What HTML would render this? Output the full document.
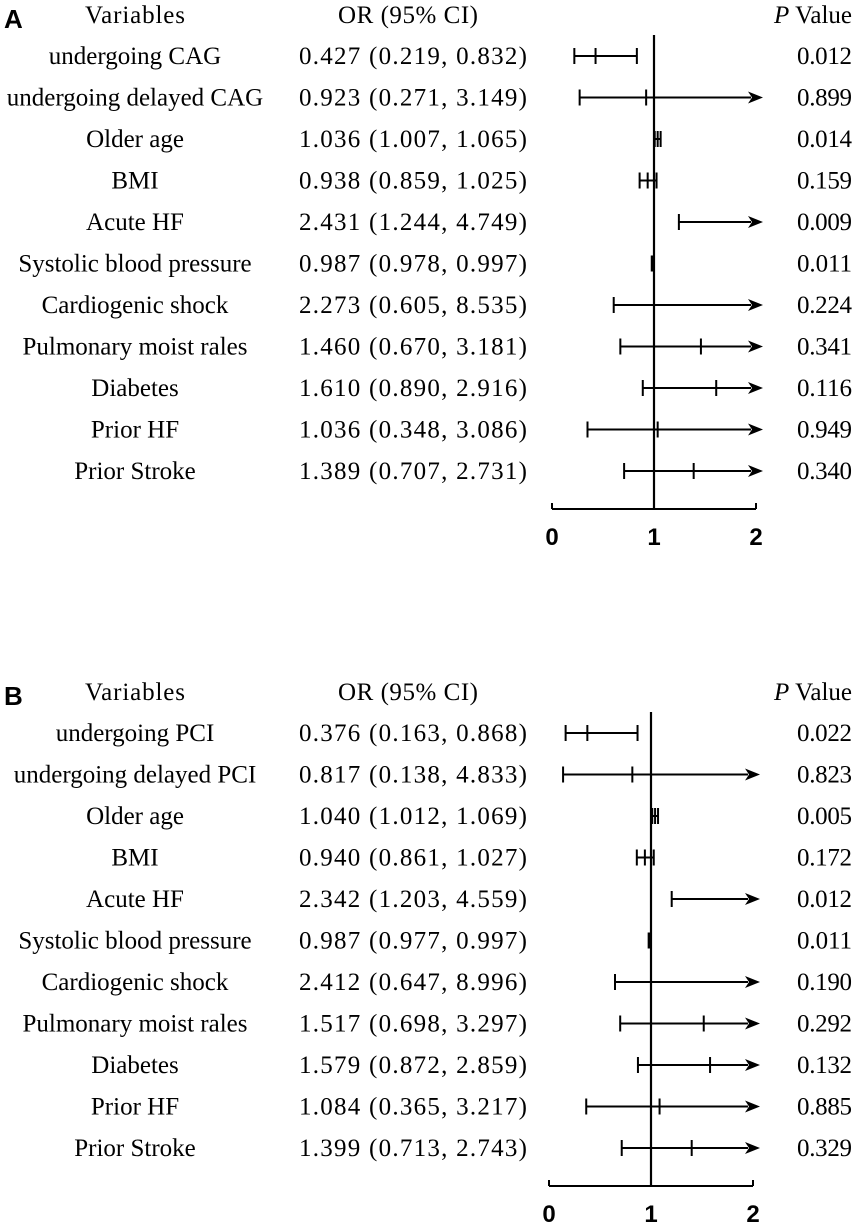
<!DOCTYPE html>
<html><head><meta charset="utf-8"><style>
body{margin:0;background:#fff;}
svg text{font-family:"Liberation Serif",serif;font-size:25px;fill:#000;}
svg .lab{font-family:"Liberation Sans",sans-serif;font-weight:bold;font-size:24px;}
</style></head><body>
<svg id="chart" width="855" height="1222" xmlns="http://www.w3.org/2000/svg"></svg>
<script>
const variablesA=["undergoing CAG","undergoing delayed CAG","Older age","BMI","Acute HF","Systolic blood pressure","Cardiogenic shock","Pulmonary moist rales","Diabetes","Prior HF","Prior Stroke"];
const orA=[0.427,0.923,1.036,0.938,2.431,0.987,2.273,1.460,1.610,1.036,1.389];
const lowA=[0.219,0.271,1.007,0.859,1.244,0.978,0.605,0.670,0.890,0.348,0.707];
const highA=[0.832,3.149,1.065,1.025,4.749,0.997,8.535,3.181,2.916,3.086,2.731];
const pA=["0.012","0.899","0.014","0.159","0.009","0.011","0.224","0.341","0.116","0.949","0.340"];
const variablesB=["undergoing PCI","undergoing delayed PCI","Older age","BMI","Acute HF","Systolic blood pressure","Cardiogenic shock","Pulmonary moist rales","Diabetes","Prior HF","Prior Stroke"];
const orB=[0.376,0.817,1.040,0.940,2.342,0.987,2.412,1.517,1.579,1.084,1.399];
const lowB=[0.163,0.138,1.012,0.861,1.203,0.977,0.647,0.698,0.872,0.365,0.713];
const highB=[0.868,4.833,1.069,1.027,4.559,0.997,8.996,3.297,2.859,3.217,2.743];
const pB=["0.022","0.823","0.005","0.172","0.012","0.011","0.190","0.292","0.132","0.885","0.329"];
const xTicks=[0,1,2];

const svg=document.getElementById('chart');
const NS="http://www.w3.org/2000/svg";
function mk(tag,attrs,parent){const e=document.createElementNS(NS,tag);for(const k in attrs)e.setAttribute(k,attrs[k]);(parent||svg).appendChild(e);return e;}
function txt(s,x,y,anchor,parent,cls){const t=mk('text',{x:x,y:y,'text-anchor':anchor},parent);if(cls)t.setAttribute('class',cls);t.textContent=s;return t;}
function f3(v){return v.toFixed(3);}

function panel(letter,oy,dx,vars,or,lo,hi,p){
  const g=mk('g',{});
  
  
  const xs=v=>552+dx+v*102;
  const rowY=i=>oy+56+i*41.5;
  const L=txt(letter,4,oy+28,'start',g,'lab');L.style.fontSize='26px';
  
  let h=txt('Variables',135,oy+23,'middle',g);
  h.setAttribute('textLength','100');
  h=txt('OR (95% CI)',408,oy+23,'middle',g);
  h.setAttribute('textLength','140');
  h=mk('text',{x:852,y:oy+23,'text-anchor':'end'},g);h.innerHTML='<tspan font-style="italic">P</tspan> Value';
  
  let r=mk('line',{x1:xs(1),x2:xs(1),y1:oy+35,y2:oy+509,stroke:'#000','stroke-width':2.2},g);
  
  const ax=mk('g',{},g);
  mk('line',{x1:xs(0),x2:xs(2),y1:oy+509,y2:oy+509,stroke:'#000','stroke-width':2},ax);
  xTicks.forEach(t=>{
    mk('line',{x1:xs(t),x2:xs(t),y1:oy+503,y2:oy+509,stroke:'#000','stroke-width':2},ax);
    const tl=txt(String(t),xs(t),oy+545,'middle',ax,'lab');
    
    
  });
  vars.forEach((v,i)=>{
    const y=rowY(i);
    const row=mk('g',{},g);
    
    
    txt(v,135,y+8,'middle',row);
    const o=txt(f3(or[i])+' ('+f3(lo[i])+', '+f3(hi[i])+')',413,y+8,'middle',row);
    o.setAttribute('textLength','228');
    const pt=txt(p[i],852,y+8,'end',row);
    pt.setAttribute('textLength','55');
    const x1=xs(lo[i]);const arrow=hi[i]>2;const x2=arrow?xs(2)+7:xs(hi[i]);
    const ci=mk('g',{},row);
    mk('line',{x1:x1,x2:arrow?x2-12:x2,y1:y,y2:y,stroke:'#000','stroke-width':2},ci);
    mk('line',{x1:x1,x2:x1,y1:y-8,y2:y+8,stroke:'#000','stroke-width':2},ci);
    if(arrow){mk('path',{d:`M${x2-15},${y-6} L${x2},${y} L${x2-15},${y+6} L${x2-11},${y} Z`,fill:'#000'},ci);}
    else mk('line',{x1:x2,x2:x2,y1:y-8,y2:y+8,stroke:'#000','stroke-width':2},ci);
    if(or[i]<=2){const xp=xs(or[i]);
    mk('line',{x1:xp,x2:xp,y1:y-8,y2:y+8,stroke:'#000','stroke-width':2},ci);}
  });
}
panel('A',0,0,variablesA,orA,lowA,highA,pA);
panel('B',677,-3,variablesB,orB,lowB,highB,pB);
</script>
</body></html>
